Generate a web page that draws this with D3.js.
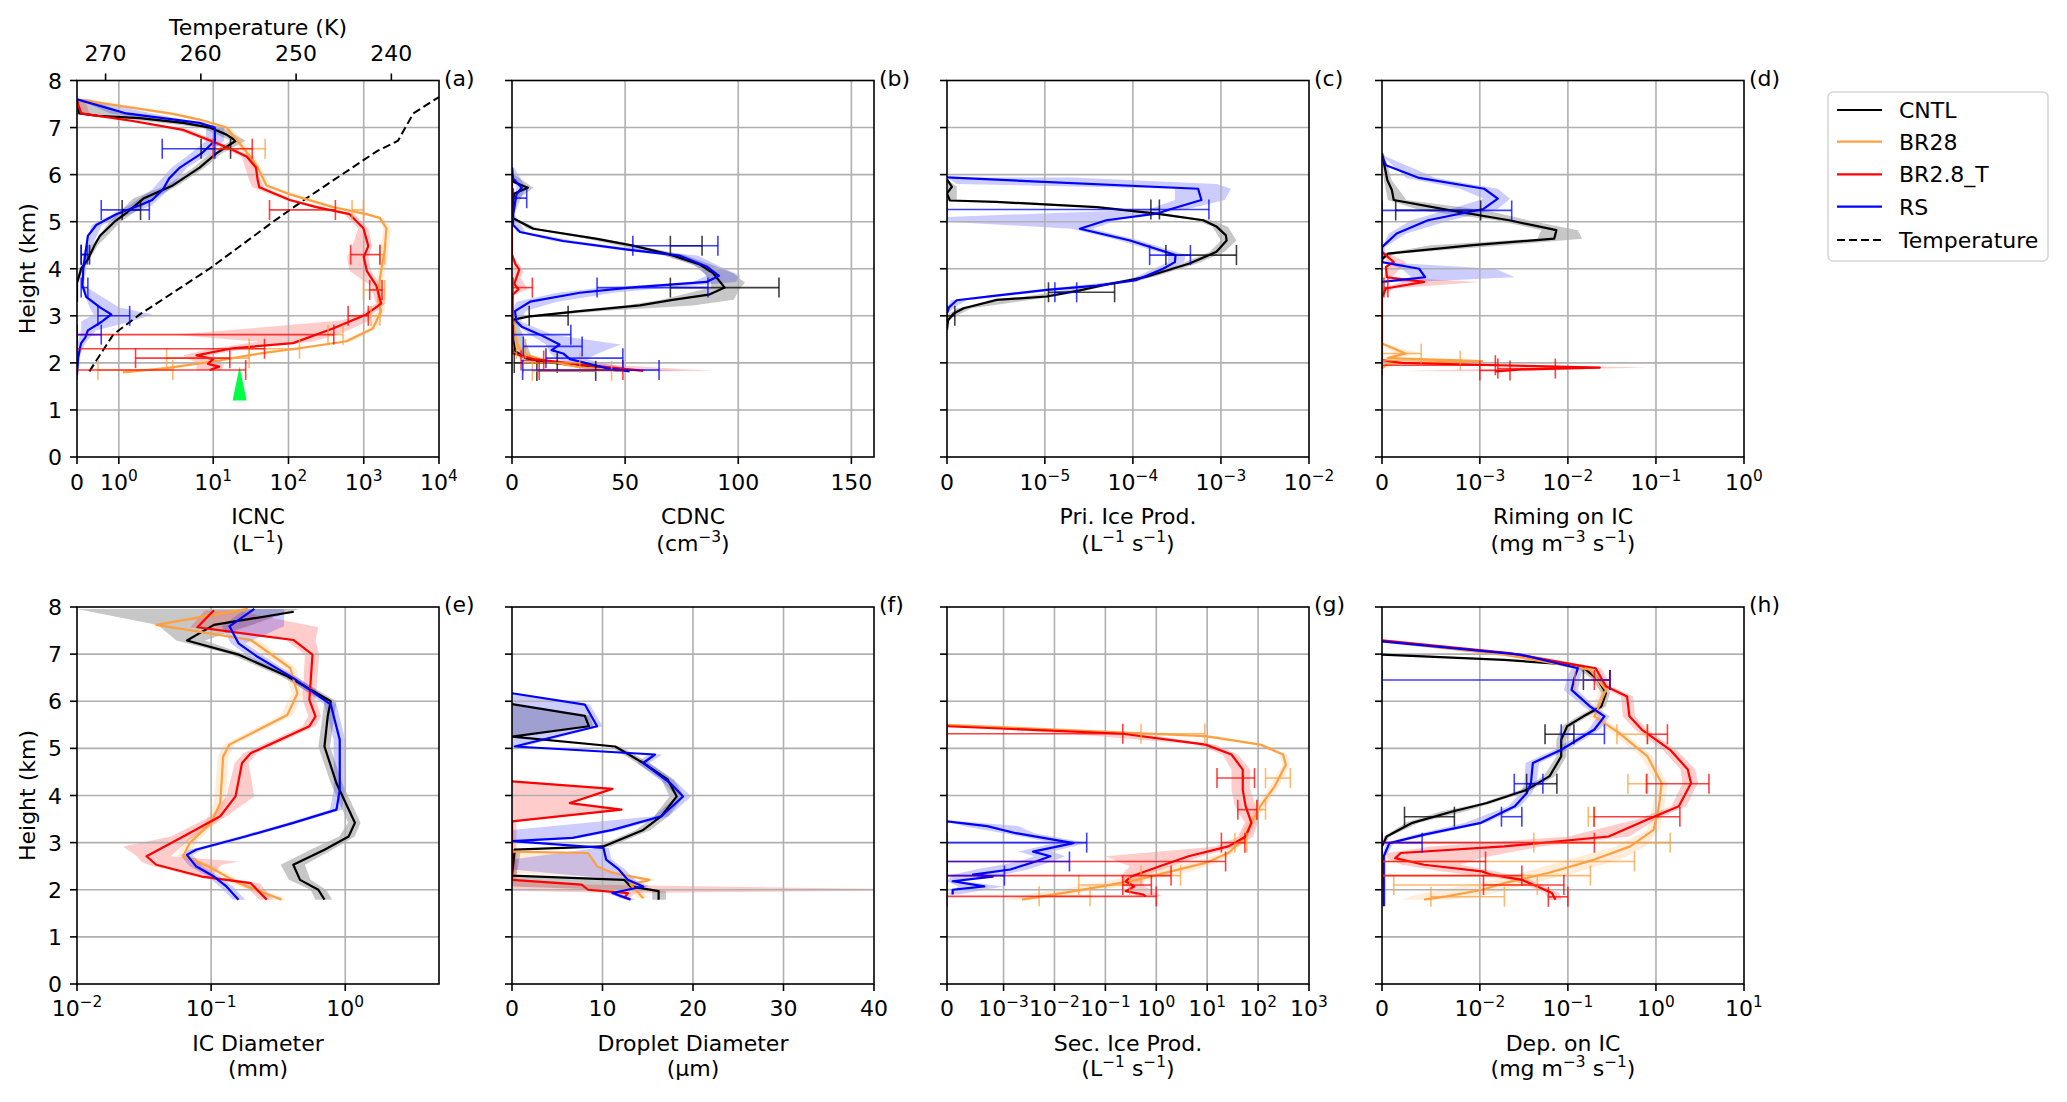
<!DOCTYPE html>
<html><head><meta charset="utf-8">
<script src="https://cdn.jsdelivr.net/npm/d3@7"></script>
<style>body{margin:0;background:#fff}svg{display:block}text{font-family:"DejaVu Sans",sans-serif;fill:#000}</style>
</head><body><svg id="c" width="2067" height="1102"></svg>
<script>
// ---------------- DATA ----------------
const SERIES_NAMES = ["CNTL","BR28","BR2.8_T","RS"];
const SERIES_COLORS = ["#000000","#ffa040","#ff0000","#0000ff"];
const HEIGHT_TICKS = [0,1,2,3,4,5,6,7,8];
const PANEL_TAGS = ["(a)","(b)","(c)","(d)","(e)","(f)","(g)","(h)"];
const X_LABELS = [["ICNC","(L^{−1})"],["CDNC","(cm^{−3})"],["Pri. Ice Prod.","(L^{−1} s^{−1})"],["Riming on IC","(mg m^{−3} s^{−1})"],
  ["IC Diameter","(mm)"],["Droplet Diameter","(μm)"],["Sec. Ice Prod.","(L^{−1} s^{−1})"],["Dep. on IC","(mg m^{−3} s^{−1})"]];
const A_TICKS=[0,1,10,100,1000,10000], B_TICKS=[0,50,100,150], C_TICKS=[0,1e-5,1e-4,1e-3,1e-2], D_TICKS=[0,1e-3,1e-2,1e-1,1];
const E_TICKS=[0.01,0.1,1], F_TICKS=[0,10,20,30,40], G_TICKS=[0,1e-3,1e-2,1e-1,1,10,100,1000], H_TICKS=[0,1e-2,1e-1,1,10];
const TEMP_TICKS=[270,260,250,240];
const TEMP_PROFILE=[[1.82,271.7],[2.6,269.2],[3.03,266.4],[4.0,259.1],[5.0,252.4],[5.5,248.9],[6.0,245.2],[6.5,241.5],[6.72,239.3],[7.3,237.7],[7.65,235.0]];
const MARKER=[1.56,22.4];

// panel (a) ICNC  [height km, value]
const A_CNTL=[[7.6,0],[7.3,0.05],[7.25,0.5],[7.2,1.5],[7.1,4],[7.0,9],[6.85,15],[6.72,20],[6.45,11],[6.15,6.6],[5.77,2.9],[5.5,1.6],[5.2,1.2],[5.0,0.9],[4.7,0.55],[4.5,0.42],[4.2,0.26],[4.0,0.1],[3.7,0],[3.3,0]];
const A_BR28=[[7.6,0],[7.44,1.18],[7.29,2.9],[7.17,6.6],[7.0,15],[6.72,21],[6.3,34],[6.15,39],[5.77,51],[5.58,104],[5.31,390],[5.16,1090],[5.08,1640],[4.86,2000],[4.4,1900],[3.79,1640],[3.34,1550],[3.1,1700],[2.73,1320],[2.46,590],[2.31,140],[2.2,42],[2.04,11],[1.89,2.4],[1.8,1.1]];
const A_BR28T=[[7.57,0],[7.3,0.1],[7.14,1.34],[6.95,4],[6.7,10],[6.53,18],[6.38,28],[6.15,37],[5.88,39],[5.73,41],[5.46,104],[5.31,234],[5.16,650],[4.86,990],[4.48,1150],[4.25,1000],[3.95,1100],[3.64,1470],[3.26,1700],[3.03,1080],[2.73,390],[2.42,115],[2.31,18],[2.16,6],[2.08,10],[1.98,8.5],[1.92,12],[1.85,9]];
const A_RS=[[7.6,0],[7.3,1.18],[7.1,6.6],[7.0,10.5],[6.72,10.5],[6.45,7],[6.15,3.6],[5.92,2.6],[5.69,2.15],[5.46,1.8],[5.35,1.5],[5.16,0.94],[4.93,0.46],[4.7,0.26],[4.32,0.2],[4.0,0.15],[3.64,0.13],[3.4,0.22],[3.18,0.55],[3.03,0.82],[2.88,0.6],[2.69,0.26],[2.54,0.2],[2.42,0.1],[2.31,0.07],[2.12,0.03],[1.74,0]];
const A_CNTL_band=[[7.6,0,0.3],[7.3,0,1.2],[7.2,1,2.4],[7.0,7,13],[6.72,17,27],[6.45,9,13],[6.15,5.5,7.8],[5.77,2.4,3.4],[5.5,1.35,1.85],[5.0,0.78,1.05],[4.5,0.35,0.5],[4.0,0.05,0.16],[3.7,0,0.03]];
const A_BR28_band=[[7.6,0,0.3],[7.3,2.4,3.5],[7.0,13,17],[6.72,18,25],[6.3,30,38],[5.77,45,58],[5.31,340,450],[5.08,1500,1800],[4.86,1800,2300],[4.4,1700,2150],[3.79,1500,1850],[3.1,1500,1900],[2.73,1150,1500],[2.46,500,700],[2.31,110,180],[2.2,33,55],[2.04,8.5,14],[1.89,1.9,3],[1.8,0.9,1.3]];
const A_BR28T_band=[[7.57,0,0.2],[7.3,0.05,0.3],[6.95,3.3,5],[6.7,8.5,12],[6.38,24,33],[5.88,30,42],[5.73,33,48],[5.46,90,120],[5.16,550,760],[4.86,850,1150],[4.48,700,1300],[4.25,600,1150],[3.95,650,1250],[3.64,1250,1700],[3.26,1450,1950],[3.03,900,1300],[2.9,500,1200],[2.73,30,700],[2.6,3,450],[2.45,40,200],[2.31,10,30],[2.16,4,9],[2.0,6,14],[1.85,6,13]];
const A_RS_band=[[7.6,0,0.2],[7.3,0.8,1.8],[7.0,8,14],[6.72,8,14],[6.45,5,9],[6.15,2.8,4.5],[5.69,1.8,2.6],[5.35,1.25,1.8],[4.93,0.35,0.6],[4.32,0.15,0.26],[3.64,0.1,0.17],[3.18,0.3,1.0],[3.03,0.4,1.8],[2.88,0.1,1.3],[2.69,0.1,0.45],[2.42,0.02,0.2],[2.12,0,0.06],[1.74,0,0.01]];
const A_CNTL_err=[[6.55,6.9,17],[5.25,1.08,1.52],[4.3,0.1,0.3]];
const A_BR28_err=[[6.55,10,49],[5.25,700,990],[4.3,1640,1900],[3.55,990,1900],[3.0,1250,1640],[2.6,335,530],[2.3,30,140],[2.1,2.4,30],[1.85,0.5,2.9]];
const A_BR28T_err=[[6.55,10,33],[5.25,56,420],[4.3,670,1640],[3.55,1200,1750],[3.0,620,1150],[2.6,0,400],[2.3,0,48],[2.1,1.4,16.6],[1.85,0,27]];
const A_RS_err=[[6.55,2.1,10.5],[5.25,0.58,1.73],[4.3,0.1,0.25],[3.6,0.1,0.26],[3.0,0.5,1.26],[2.6,0,0.58]];

// panel (b) CDNC
const B_CNTL=[[6.0,0],[5.85,0.5],[5.72,7],[5.6,1],[5.46,0.5],[5.08,0.3],[4.85,9.4],[4.64,37],[4.49,53.5],[4.3,70],[4.09,83],[3.9,89],[3.6,94],[3.45,87],[3.34,71],[3.22,56.5],[3.1,30],[2.99,8],[2.92,0.6],[2.5,0.5],[2.25,1.5],[2.1,6],[2.04,12],[1.89,37],[1.83,48]];
const B_BR28=[[2.88,0.6],[2.42,2],[2.2,5],[2.04,15],[1.91,30],[1.83,48]];
const B_BR28T=[[6.0,0],[4.3,0],[4.1,1.5],[3.98,3.2],[3.68,1],[3.56,2.8],[3.45,0.3],[2.3,0.3],[2.2,0.6],[2.08,9.4],[1.97,30],[1.83,58]];
const B_RS=[[6.15,0],[5.92,0.5],[5.72,4.3],[5.58,2],[5.16,0.5],[4.93,0.5],[4.78,3.5],[4.59,22.6],[4.4,52],[4.28,74],[4.05,86],[3.85,91.5],[3.72,86],[3.6,52],[3.49,30],[3.3,8],[3.1,1.3],[2.88,2],[2.77,4.3],[2.6,12.4],[2.39,21],[2.27,17.5],[2.2,22.6],[2.08,25.6],[1.89,41.5],[1.82,52]];
const B_CNTL_band=[[6.0,0,1],[5.72,4,9.5],[5.46,0,2],[5.08,0,1],[4.85,7,12],[4.64,33,40],[4.3,66,76],[4.09,80,88],[3.9,85,98],[3.7,88,103],[3.6,88,101],[3.34,66,98],[3.22,50,80],[3.1,25,40],[2.99,5,12],[2.92,0,2],[2.1,3,9],[1.89,30,42],[1.83,40,55]];
const B_BR28_band=[[2.88,0,1],[2.42,1,3],[2.2,3,7],[2.04,12,19],[1.91,25,36],[1.83,42,55]];
const B_BR28T_band=[[4.3,0,0.3],[4.1,0,3],[3.98,0.5,5],[3.8,0,4],[3.56,0.5,7],[3.45,0,1],[2.3,0,0.5],[2.2,0,2],[2.08,6,13],[1.97,25,40],[1.83,50,89]];
const B_RS_band=[[6.15,0,1],[5.72,2,6],[5.16,0,1],[4.78,2,6],[4.59,18,28],[4.4,47,58],[4.28,68,82],[4.05,82,92],[3.85,86,101],[3.72,80,99],[3.6,40,70],[3.49,20,45],[3.3,2,20],[3.1,0,6],[2.88,0,4],[2.6,8,18],[2.39,15,48],[2.2,17,38],[2.08,20,33],[1.89,35,50],[1.82,45,76]];
const B_CNTL_err=[[4.49,70,84],[3.6,70,118],[3.0,7.6,24.8],[2.0,1,20],[1.83,11,37]];
const B_BR28_err=[[2.3,2,6],[2.0,5,30],[1.83,9,44]];
const B_BR28T_err=[[3.6,0.5,9],[2.05,4,14],[1.85,12,49]];
const B_RS_err=[[5.5,0.6,6.5],[4.49,53.4,91],[3.6,37.6,86.6],[2.6,0.6,26],[2.35,5,31],[2.1,15,49],[1.85,4.7,65]];

// panel (c) primary ice production
const C_CNTL=[[5.9,0],[5.74,5e-7],[5.6,0],[5.45,3e-7],[5.42,5e-6],[5.31,3.9e-5],[5.17,1.86e-4],[5.03,6.3e-4],[4.89,9e-4],[4.71,1.14e-3],[4.6,1.16e-3],[4.36,8.9e-4],[4.11,4.4e-4],[3.83,1.43e-4],[3.65,4.6e-5],[3.54,2.5e-5],[3.41,1.05e-5],[3.34,5.1e-6],[3.16,1.7e-6],[3.05,6.8e-7],[2.9,1e-7],[2.7,0]];
const C_RS=[[5.94,0],[5.7,5.5e-4],[5.46,6e-4],[5.26,2.6e-4],[5.17,1.86e-4],[5.03,5e-5],[4.85,2.5e-5],[4.6,9.3e-5],[4.29,3.05e-4],[4.14,3e-4],[4.0,2.2e-4],[3.76,1.1e-4],[3.64,3.9e-5],[3.55,1.05e-5],[3.43,5e-6],[3.33,1e-6],[3.18,2e-7],[3.05,0]];
const C_CNTL_band=[[5.9,0,0],[5.74,0,1e-6],[5.45,0,1e-6],[5.42,3e-6,8e-6],[5.31,3e-5,5e-5],[5.17,1.5e-4,2.4e-4],[5.03,5.2e-4,7.8e-4],[4.89,8e-4,1.2e-3],[4.6,1e-3,1.5e-3],[4.36,7.5e-4,1.1e-3],[4.11,3.6e-4,5.4e-4],[3.83,1.2e-4,1.75e-4],[3.65,3.8e-5,5.6e-5],[3.41,8e-6,1.3e-5],[3.16,1e-6,2.5e-6],[3.0,0,1e-6],[2.9,0,0]];
const C_RS_band=[[5.94,0,2e-5],[5.8,1e-6,9e-4],[5.7,3e-4,1.3e-3],[5.46,3e-4,1.1e-3],[5.26,1.5e-4,4e-4],[5.1,0,9e-5],[5.0,0,6e-5],[4.85,2e-5,3.5e-5],[4.6,7e-5,1.2e-4],[4.29,2.5e-4,4e-4],[4.14,2.5e-4,3.8e-4],[3.76,9e-5,1.3e-4],[3.55,9e-6,1.5e-5],[3.33,4e-7,2e-6],[3.18,0,8e-7],[3.05,0,1e-7]];
const C_CNTL_err=[[5.26,1.6e-4,2.0e-4],[4.29,2.37e-4,1.5e-3],[3.5,1.1e-5,6.2e-5],[3.0,0,8e-7]];
const C_RS_err=[[5.26,0,7.3e-4],[4.29,1.55e-4,4.5e-4],[3.5,1.3e-5,2.3e-5]];

// panel (d) riming
const D_CNTL=[[6.45,0],[5.88,5.5e-5],[5.68,1e-4],[5.46,1.2e-4],[5.24,7e-4],[5.03,2.15e-3],[4.82,7.4e-3],[4.64,7e-3],[4.5,9.3e-4],[4.32,6e-5],[4.2,0]];
const D_BR28=[[2.41,0],[2.2,2.4e-4],[2.1,6e-5],[2.04,1.06e-3],[1.99,6e-5],[1.88,0]];
const D_BR28T=[[4.36,0],[4.14,1.2e-4],[4.04,4e-5],[3.82,5e-5],[3.72,4.3e-4],[3.58,4e-5],[3.4,0],[2.06,0],[2.0,2e-4],[1.95,1.6e-3],[1.9,2.3e-2],[1.86,3e-3],[1.82,1.5e-3]];
const D_RS=[[6.4,0],[6.2,4e-5],[5.93,3.8e-4],[5.7,1.12e-3],[5.49,1.6e-3],[5.27,1.1e-3],[5.03,4.7e-4],[4.75,1.5e-4],[4.46,0],[4.14,0],[4.0,3.8e-4],[3.82,4.4e-4],[3.72,0]];
const D_CNTL_band=[[6.45,0,2e-5],[5.88,2e-5,1e-4],[5.46,6e-5,2.5e-4],[5.24,4e-4,1.2e-3],[5.03,1.5e-3,3.5e-3],[4.82,5e-3,1.3e-2],[4.64,4.5e-3,1.45e-2],[4.5,5e-4,2e-3],[4.32,0,1.5e-4],[4.2,0,0]];
const D_BR28_band=[[2.41,0,2e-5],[2.2,1.2e-4,4e-4],[2.1,3e-5,1.2e-4],[2.04,6e-4,2e-3],[1.99,2e-5,2e-4],[1.88,0,5e-5]];
const D_BR28T_band=[[4.36,0,3e-5],[4.14,5e-5,2.5e-4],[3.82,2e-5,1e-4],[3.72,2e-4,1e-3],[3.58,0,1.2e-4],[3.4,0,0],[2.06,0,0],[2.0,1e-4,5e-4],[1.95,5e-4,4e-3],[1.9,1e-2,8e-2],[1.86,8e-4,9e-3],[1.82,2e-4,4e-3]];
const D_RS_band=[[6.4,0,2e-5],[5.93,2.5e-4,5.5e-4],[5.7,8e-4,1.6e-3],[5.49,1.1e-3,2.2e-3],[5.27,7e-4,1.6e-3],[5.03,3e-4,7e-4],[4.75,7e-5,2.5e-4],[4.46,0,3e-5],[4.14,0,2e-5],[4.0,2e-4,1.5e-3],[3.82,3e-4,2.5e-3],[3.72,0,3e-4]];
const D_CNTL_err=[[5.24,1.4e-4,1.02e-3]];
const D_BR28_err=[[2.2,0,4e-4],[2.05,0,8e-4]];
const D_BR28T_err=[[3.6,2e-5,6e-5],[1.95,0,1.5e-3],[1.88,1.6e-3,7.2e-3],[1.84,1e-3,2.2e-3]];
const D_RS_err=[[5.24,0,2.3e-3]];

// panel (e) IC diameter
const E_CNTL=[[7.9,0.413],[7.62,0.105],[7.29,0.066],[6.99,0.16],[6.53,0.37],[6.0,0.78],[5.68,0.74],[5.04,0.70],[4.26,0.86],[3.42,1.18],[3.13,1.06],[2.85,0.70],[2.53,0.41],[2.21,0.46],[2.0,0.63],[1.79,0.70]];
const E_BR28=[[7.96,0.188],[7.62,0.039],[7.3,0.198],[6.7,0.39],[6.17,0.44],[5.71,0.37],[5.08,0.137],[4.83,0.123],[3.84,0.117],[3.42,0.1],[2.99,0.069],[2.71,0.062],[2.5,0.095],[2.14,0.16],[1.79,0.335]];
const E_BR28T=[[7.93,0.105],[7.57,0.079],[7.3,0.41],[6.99,0.57],[6.03,0.54],[5.68,0.60],[5.47,0.54],[4.9,0.198],[4.69,0.17],[3.98,0.152],[3.56,0.117],[3.13,0.062],[2.71,0.033],[2.53,0.039],[2.28,0.085],[2.14,0.198],[2.0,0.22],[1.79,0.26]];
const E_RS=[[7.96,0.21],[7.59,0.137],[7.23,0.16],[6.95,0.22],[6.49,0.41],[5.93,0.78],[5.18,0.91],[4.12,0.91],[3.7,0.86],[3.42,0.41],[3.13,0.18],[2.85,0.077],[2.74,0.066],[2.5,0.077],[2.28,0.105],[2.07,0.13],[1.79,0.16]];
const E_CNTL_band=[[7.96,0.01,0.45],[7.62,0.04,0.2],[7.29,0.055,0.09],[6.99,0.14,0.18],[6.53,0.33,0.42],[6.0,0.7,0.86],[5.04,0.63,0.77],[4.26,0.78,0.95],[3.42,1.05,1.3],[3.13,0.9,1.18],[2.85,0.55,0.8],[2.53,0.33,0.5],[2.21,0.38,0.55],[2.0,0.55,0.72],[1.79,0.6,0.8]];
const E_BR28_band=[[7.96,0.15,0.23],[7.62,0.035,0.045],[7.3,0.17,0.23],[6.7,0.35,0.43],[6.17,0.4,0.49],[5.71,0.33,0.41],[5.08,0.125,0.15],[4.83,0.112,0.135],[3.84,0.105,0.128],[3.42,0.09,0.11],[2.99,0.062,0.077],[2.71,0.056,0.068],[2.5,0.085,0.105],[2.14,0.14,0.18],[1.79,0.3,0.37]];
const E_BR28T_band=[[7.93,0.09,0.15],[7.57,0.07,0.63],[7.3,0.36,0.6],[6.99,0.5,0.64],[6.03,0.48,0.6],[5.68,0.53,0.66],[5.47,0.48,0.6],[4.9,0.175,0.22],[4.69,0.15,0.19],[3.98,0.13,0.21],[3.56,0.1,0.13],[3.13,0.05,0.075],[2.92,0.022,0.06],[2.71,0.028,0.05],[2.6,0.03,0.16],[2.53,0.034,0.12],[2.28,0.075,0.1],[2.14,0.17,0.23],[1.79,0.23,0.29]];
const E_RS_band=[[7.96,0.18,0.35],[7.59,0.12,0.35],[7.23,0.14,0.18],[6.95,0.19,0.25],[6.49,0.37,0.45],[5.93,0.7,0.86],[5.18,0.82,1.0],[4.12,0.82,1.0],[3.7,0.77,0.95],[3.42,0.37,0.45],[3.13,0.16,0.2],[2.85,0.069,0.086],[2.74,0.059,0.073],[2.5,0.069,0.086],[2.28,0.094,0.116],[2.07,0.116,0.145],[1.79,0.145,0.18]];

// panel (f) droplet diameter
const F_CNTL=[[5.94,0],[5.69,8.05],[5.47,8.5],[5.25,0],[5.04,11.4],[4.69,14.5],[4.34,17.2],[3.98,18.2],[3.56,16.5],[3.27,14.5],[2.92,10.1],[2.85,0.3],[2.3,0],[2.21,12.4],[2.07,13.1],[1.97,16.2],[1.79,16.2]];
const F_BR28=[[2.81,0],[2.78,8.4],[2.5,9.4],[2.36,11.1],[2.21,15.2],[2.11,13.1],[1.97,13.8],[1.82,14.5]];
const F_BR28T=[[4.3,0],[4.14,11.1],[3.84,6.4],[3.7,12.1],[3.45,0],[2.21,0],[2.11,7.7],[2.0,8.4],[1.93,12.8],[1.82,12.4]];
const F_RS=[[6.17,0],[5.93,8.05],[5.47,9.4],[5.04,0.3],[4.87,15.8],[4.69,14.5],[4.26,17.5],[3.98,18.9],[3.56,16.5],[3.27,11.1],[3.1,6.7],[3.03,0],[2.89,10.1],[2.64,10.4],[2.43,11.8],[2.21,12.8],[2.07,14.5],[1.93,11.1],[1.79,13.1]];
const F_CNTL_band=[[5.94,0,0],[5.69,0,8.6],[5.47,0,9],[5.25,0,0.5],[5.04,10.8,12],[4.69,13.8,15.2],[4.34,16.5,17.9],[3.98,17.4,19],[3.56,15.7,17.3],[3.27,13.7,15.3],[2.92,9.4,10.9],[2.85,0,1],[2.3,0,0.5],[2.21,0,13],[2.07,0,13.8],[1.97,15.5,17],[1.79,15.5,17]];
const F_BR28_band=[[2.81,0,0],[2.78,0,8.4],[2.5,0,9.4],[2.36,0,11.1],[2.21,14.5,15.9],[2.11,12.5,13.7],[1.97,13.2,14.4],[1.82,13.9,15.1]];
const F_BR28T_band=[[4.3,0,0],[4.14,0,11.1],[3.84,0,6.4],[3.7,0,12.1],[3.45,0,0.5],[2.21,0,0.5],[2.11,0,7.7],[2.02,0,40],[1.98,0,40],[1.93,12,13.6],[1.82,11.8,13]];
const F_RS_band=[[6.17,0,0.5],[5.93,0,8.6],[5.47,0,10],[5.04,0,1.3],[4.87,15,16.6],[4.69,13.8,15.2],[4.26,16.8,18.3],[3.98,18.2,19.8],[3.56,15.7,17.3],[3.27,0,12],[3.1,0,7.5],[3.03,0,1],[2.89,9.5,10.7],[2.64,0,11],[2.43,0,12.5],[2.21,12,13.6],[2.07,13.8,15.2],[1.93,10.5,11.7],[1.79,12.5,13.7]];

// panel (g) secondary ice production
const G_BR28=[[5.5,0],[5.26,9.3],[5.08,110],[4.87,310],[4.65,350],[4.19,210],[3.77,110],[3.42,74],[3.06,50],[2.78,26],[2.57,9.3],[2.39,1.95],[2.21,0.41],[2.07,0.086],[1.93,0.014],[1.79,0.0023]];
const G_BR28T=[[5.47,0],[5.31,0.22],[5.08,9.3],[4.87,30],[4.55,50],[4.12,50],[3.77,57],[3.42,74],[3.13,57],[2.92,26],[2.71,4.3],[2.5,1.17],[2.28,0.32],[2.18,0.25],[2.07,0.37],[1.97,0.25],[1.9,0.55],[1.86,0.62]];
const G_RS=[[3.45,0],[3.35,7.1e-4],[3.2,1.75e-3],[2.99,0.0236],[2.81,3.8e-3],[2.71,8.3e-3],[2.6,4.3e-3],[2.43,1.35e-3],[2.32,4.6e-4],[2.28,8.1e-4],[2.18,1e-4],[2.07,6.6e-4],[2.0,1e-4],[1.9,1e-4]];
const G_BR28_band=[[5.5,0,1e-4],[5.26,5,14],[5.08,90,130],[4.87,260,380],[4.65,300,420],[4.19,170,260],[3.77,90,140],[3.42,60,90],[3.06,40,60],[2.78,20,33],[2.57,4,15],[2.39,0.5,5],[2.21,0.15,0.8],[2.07,0.03,0.2],[1.93,0.004,0.03],[1.79,0.001,0.004]];
const G_BR28T_band=[[5.47,0,1e-4],[5.31,0.02,0.5],[5.08,6,14],[4.87,20,40],[4.55,30,70],[4.12,30,70],[3.77,35,90],[3.42,55,100],[3.13,40,80],[2.92,15,40],[2.71,0.1,8],[2.5,0.3,2],[2.28,0.2,0.5],[2.07,0.25,0.6],[1.86,0.4,1.3]];
const G_RS_band=[[3.45,0,3e-4],[3.35,3e-4,2e-3],[3.2,1e-3,4e-3],[2.99,0.01,0.045],[2.81,2e-3,9e-3],[2.71,4e-3,0.016],[2.6,2e-3,9e-3],[2.43,5e-4,3e-3],[2.32,1e-4,1e-3],[2.18,0,3e-4],[2.07,2e-4,1e-3],[1.9,0,2e-4]];
const G_BR28_err=[[5.31,0.5,9],[4.37,140,430],[3.7,95,140],[3.0,35,60],[2.3,0.5,3],[2.1,0.03,0.3],[1.86,0.005,0.05]];
const G_BR28T_err=[[5.31,0,0.22],[4.37,15.6,85],[3.7,40,95],[3.0,19,55],[2.6,0,23],[2.3,0,1.95],[2.1,0.22,0.8],[1.86,0,1.0]];
const G_RS_err=[[3.0,0,0.043],[2.6,0,0.0197],[2.3,0,1.04e-3]];

// panel (h) depositional growth
const H_CNTL=[[6.99,0],[6.88,0.0188],[6.78,0.098],[6.7,0.153],[6.46,0.22],[6.17,0.27],[5.89,0.24],[5.68,0.15],[5.47,0.098],[5.18,0.084],[4.83,0.084],[4.41,0.062],[4.12,0.034],[3.84,0.012],[3.66,7.2e-3],[3.42,3.1e-3],[3.13,4.7e-4],[2.92,0]];
const H_BR28=[[7.27,0],[6.99,0.0188],[6.67,0.178],[6.24,0.27],[5.68,0.2],[5.33,0.38],[4.83,0.8],[4.26,1.16],[3.77,1.08],[3.27,0.94],[2.92,0.51],[2.64,0.2],[2.36,0.061],[2.14,0.0188],[2.0,0.0107],[1.86,6.6e-3],[1.79,4.3e-3]];
const H_BR28T=[[7.29,0],[7.02,0.0218],[6.7,0.207],[6.32,0.27],[6.1,0.47],[5.68,0.5],[5.4,0.69],[4.97,1.45],[4.55,2.3],[4.26,2.5],[3.77,1.82],[3.49,0.8],[3.13,0.29],[2.92,0.019],[2.78,1.9e-3],[2.67,1.35e-3],[2.53,4.3e-3],[2.39,0.0105],[2.32,0.0136],[2.21,0.03],[2.07,0.045],[1.93,0.066],[1.79,0.072]];
const H_RS=[[7.27,0],[6.99,0.029],[6.7,0.13],[6.53,0.12],[6.24,0.11],[5.89,0.178],[5.68,0.26],[5.4,0.2],[4.97,0.084],[4.69,0.04],[4.26,0.038],[4.05,0.034],[3.77,0.025],[3.42,0.0103],[3.17,4.3e-3],[2.99,7.6e-4],[2.71,1.8e-4],[1.65,1.8e-4]];
const H_CNTL_band=[[7.0,0,2e-3],[6.88,0.015,0.023],[6.78,0.085,0.11],[6.7,0.13,0.17],[6.46,0.19,0.25],[6.17,0.24,0.3],[5.89,0.21,0.27],[5.68,0.13,0.17],[5.47,0.085,0.11],[5.18,0.074,0.096],[4.83,0.074,0.096],[4.41,0.053,0.071],[4.12,0.029,0.039],[3.84,0.0105,0.014],[3.66,6e-3,8.5e-3],[3.42,2.4e-3,3.8e-3],[3.13,2e-4,8e-4],[2.92,0,1e-4]];
const H_BR28_band=[[7.27,0,1e-3],[6.99,0.015,0.023],[6.67,0.15,0.21],[6.24,0.23,0.31],[5.68,0.17,0.23],[5.33,0.32,0.44],[4.83,0.68,0.92],[4.26,1.0,1.35],[3.77,0.92,1.25],[3.27,0.8,1.1],[2.92,0.35,0.75],[2.64,0.1,0.4],[2.36,0.03,0.12],[2.14,0.01,0.04],[2.0,6e-3,0.02],[1.86,3e-3,0.01],[1.79,2e-3,7e-3]];
const H_BR28T_band=[[7.29,0,1e-3],[7.02,0.018,0.026],[6.7,0.18,0.24],[6.32,0.23,0.31],[6.1,0.4,0.55],[5.68,0.42,0.58],[5.4,0.58,0.8],[4.97,1.2,1.7],[4.55,1.9,2.8],[4.26,2.0,3.0],[3.77,1.5,2.2],[3.49,0.6,1.0],[3.13,0.1,0.5],[2.92,5e-3,0.05],[2.78,5e-4,0.02],[2.67,5e-4,0.01],[2.53,2e-3,8e-3],[2.39,6e-3,0.015],[2.21,0.022,0.038],[2.07,0.036,0.055],[1.93,0.055,0.08],[1.79,0.06,0.085]];
const H_RS_band=[[7.27,0,1e-3],[6.99,0.024,0.034],[6.7,0.11,0.15],[6.53,0.1,0.14],[6.24,0.09,0.13],[5.89,0.15,0.2],[5.68,0.22,0.3],[5.4,0.17,0.23],[4.97,0.07,0.1],[4.69,0.033,0.047],[4.26,0.032,0.044],[4.05,0.029,0.039],[3.77,0.021,0.029],[3.42,8.5e-3,0.012],[3.17,3.4e-3,5.3e-3],[2.99,4e-4,1.2e-3],[2.71,0,4e-4],[1.65,0,4e-4]];
const H_CNTL_err=[[6.45,0.15,0.3],[5.3,0.055,0.117],[4.25,0.034,0.075],[3.55,2.3e-3,7.4e-3]];
const H_BR28_err=[[6.45,0.12,0.3],[5.3,0.36,0.8],[4.25,0.48,0.8],[3.55,0.17,0.2],[3.0,0.041,1.45],[2.6,0,0.57],[2.3,0,0.18],[2.1,1.2e-3,0.045],[1.85,5e-3,0.019]];
const H_BR28T_err=[[6.45,0.2,0.3],[5.3,0.8,1.35],[4.25,0.78,4.0],[3.55,0.198,1.87],[3.0,0,0.2],[2.6,0,0.0116],[2.3,0,0.03],[2.1,0.011,0.09],[1.85,0.06,0.1]];
const H_RS_err=[[6.45,0,0.3],[5.3,0.084,0.26],[4.25,0.0246,0.052],[3.55,0.0176,0.03],[3.0,0,4.1e-3]];

// ---------------- LAYOUT ----------------
const LEFTS=[77,512,947,1382], PW=362, TOPS=[80.5,607], BOTTOMS=[457,984];
const FS=22;
const PANELS=[
 {row:0,col:0,x:{type:"symlog",lt:2,max:1e4},ticks:A_TICKS,log:true,s:[[A_CNTL,A_CNTL_band,A_CNTL_err],[A_BR28,A_BR28_band,A_BR28_err],[A_BR28T,A_BR28T_band,A_BR28T_err],[A_RS,A_RS_band,A_RS_err]]},
 {row:0,col:1,x:{type:"lin",max:160},ticks:B_TICKS,log:false,s:[[B_CNTL,B_CNTL_band,B_CNTL_err],[B_BR28,B_BR28_band,B_BR28_err],[B_BR28T,B_BR28T_band,B_BR28T_err],[B_RS,B_RS_band,B_RS_err]]},
 {row:0,col:2,x:{type:"symlog",lt:1e-5,max:1e-2},ticks:C_TICKS,log:true,s:[[C_CNTL,C_CNTL_band,C_CNTL_err],null,null,[C_RS,C_RS_band,C_RS_err]]},
 {row:0,col:3,x:{type:"symlog",lt:1e-3,max:1},ticks:D_TICKS,log:true,s:[[D_CNTL,D_CNTL_band,D_CNTL_err],[D_BR28,D_BR28_band,D_BR28_err],[D_BR28T,D_BR28T_band,D_BR28T_err],[D_RS,D_RS_band,D_RS_err]]},
 {row:1,col:0,x:{type:"log",min:0.01,max:5},ticks:E_TICKS,log:true,s:[[E_CNTL,E_CNTL_band,null],[E_BR28,E_BR28_band,null],[E_BR28T,E_BR28T_band,null],[E_RS,E_RS_band,null]]},
 {row:1,col:1,x:{type:"lin",max:40},ticks:F_TICKS,log:false,s:[[F_CNTL,F_CNTL_band,null],[F_BR28,F_BR28_band,null],[F_BR28T,F_BR28T_band,null],[F_RS,F_RS_band,null]]},
 {row:1,col:2,x:{type:"symlog",lt:1e-3,max:1e3},ticks:G_TICKS,log:true,s:[null,[G_BR28,G_BR28_band,G_BR28_err],[G_BR28T,G_BR28T_band,G_BR28T_err],[G_RS,G_RS_band,G_RS_err]]},
 {row:1,col:3,x:{type:"symlog",lt:1e-2,max:10},ticks:H_TICKS,log:true,s:[[H_CNTL,H_CNTL_band,H_CNTL_err],[H_BR28,H_BR28_band,H_BR28_err],[H_BR28T,H_BR28T_band,H_BR28T_err],[H_RS,H_RS_band,H_RS_err]]}
];

const svg=d3.select("#c");
const defs=svg.append("defs");

function makeX(sp,x0,x1){
  if(sp.type==="lin") return d3.scaleLinear().domain([0,sp.max]).range([x0,x1]);
  if(sp.type==="log") return d3.scaleLog().domain([sp.min,sp.max]).range([x0,x1]);
  const lt=sp.lt, adj=1/(1-0.1);
  const t=v=> v<=lt ? (v/lt)*adj : adj+Math.log10(v/lt);
  const lin=d3.scaleLinear().domain([0,t(sp.max)]).range([x0,x1]);
  return v=>lin(t(Math.max(0,v)));
}
function rich(sel,str,size){
  const parts=str.split(/(\^\{[^}]*\})/).filter(s=>s.length);
  let raised=false;
  parts.forEach(p=>{
    if(p.startsWith("^{")){
      sel.append("tspan").attr("font-size",size*0.7).attr("dy",-size*0.42).text(p.slice(2,-1));
      raised=true;
    } else {
      const ts=sel.append("tspan").attr("font-size",size).text(p);
      if(raised){ts.attr("dy",size*0.42);raised=false;}
    }
  });
}
function addText(g,str,x,y,anchor,size){
  const t=g.append("text").attr("x",x).attr("y",y).attr("text-anchor",anchor||"middle").attr("font-size",size||FS);
  rich(t,str,size||FS);
  return t;
}
function tickLabel(v,isLog){
  if(!isLog) return String(v);
  if(v===0) return "0";
  const e=Math.round(Math.log10(v));
  return "10^{"+(e<0?"−"+(-e):e)+"}";
}

PANELS.forEach((p,i)=>{
  const x0=LEFTS[p.col], x1=x0+PW, y0=TOPS[p.row], y1=BOTTOMS[p.row];
  const xs=makeX(p.x,x0,x1);
  const ys=d3.scaleLinear().domain([0,8]).range([y1,y0]);
  const g=svg.append("g");
  const cid="clip"+i;
  defs.append("clipPath").attr("id",cid).append("rect").attr("x",x0).attr("y",y0).attr("width",PW).attr("height",y1-y0);
  const plot=g.append("g").attr("clip-path","url(#"+cid+")");
  const area=d3.area().y(d=>ys(d[0])).x0(d=>xs(d[1])).x1(d=>xs(d[2]));
  const line=d3.line().x(d=>xs(d[1])).y(d=>ys(d[0]));
  p.s.forEach((s,k)=>{ if(s&&s[1]) plot.append("path").attr("d",area(s[1])).attr("fill",SERIES_COLORS[k]).attr("fill-opacity",k===0?0.22:0.2).attr("stroke","none"); });
  HEIGHT_TICKS.forEach(v=>{ if(v>0&&v<8) plot.append("line").attr("x1",x0).attr("x2",x1).attr("y1",ys(v)).attr("y2",ys(v)).attr("stroke","#b0b0b0").attr("stroke-width",1.6); });
  p.ticks.forEach(v=>{ const X=xs(v); if(X>x0+1&&X<x1-1) plot.append("line").attr("x1",X).attr("x2",X).attr("y1",y0).attr("y2",y1).attr("stroke","#b0b0b0").attr("stroke-width",1.6); });
  if(i===0){
    const ts=d3.scaleLinear().domain([273,235]).range([x0,x1]);
    plot.append("path").attr("d",d3.line().x(d=>ts(d[1])).y(d=>ys(d[0]))(TEMP_PROFILE)).attr("fill","none").attr("stroke","#000").attr("stroke-width",2).attr("stroke-dasharray","8,4");
    const mx=xs(MARKER[1]), my=ys(MARKER[0]);
    plot.append("path").attr("d",`M${mx},${my-17}L${mx+7},${my+17}L${mx-7},${my+17}Z`).attr("fill","#00ff44");
  }
  p.s.forEach((s,k)=>{ if(s) plot.append("path").attr("d",line(s[0])).attr("fill","none").attr("stroke",SERIES_COLORS[k]).attr("stroke-width",2.2).attr("stroke-linejoin","round"); });
  p.s.forEach((s,k)=>{ if(s&&s[2]) s[2].forEach(e=>{
    const Y=ys(e[0]), a=xs(e[1]), b=xs(e[2]);
    const eg=plot.append("g").attr("stroke",SERIES_COLORS[k]).attr("stroke-width",1.6).attr("stroke-opacity",0.75);
    eg.append("line").attr("x1",a).attr("x2",b).attr("y1",Y).attr("y2",Y);
    eg.append("line").attr("x1",a).attr("x2",a).attr("y1",Y-10).attr("y2",Y+10);
    eg.append("line").attr("x1",b).attr("x2",b).attr("y1",Y-10).attr("y2",Y+10);
  }); });
  g.append("rect").attr("x",x0).attr("y",y0).attr("width",PW).attr("height",y1-y0).attr("fill","none").attr("stroke","#000").attr("stroke-width",1.6);
  HEIGHT_TICKS.forEach(v=>{
    g.append("line").attr("x1",x0-7).attr("x2",x0).attr("y1",ys(v)).attr("y2",ys(v)).attr("stroke","#000").attr("stroke-width",1.6);
    if(p.col===0) addText(g,String(v),x0-15,ys(v)+8,"end");
  });
  const tb = p.row===0 ? 490 : 1016;
  p.ticks.forEach(v=>{
    const X=xs(v);
    g.append("line").attr("x1",X).attr("x2",X).attr("y1",y1).attr("y2",y1+7).attr("stroke","#000").attr("stroke-width",1.6);
    addText(g,tickLabel(v,p.log),X,tb,"middle");
  });
  const lab=X_LABELS[i], cx=(x0+x1)/2;
  addText(g,lab[0],cx,p.row===0?524:1051,"middle");
  addText(g,lab[1],cx,p.row===0?551:1076,"middle");
  addText(g,PANEL_TAGS[i],x1+5,y0+5,"start");
  if(p.col===0){
    g.append("text").attr("transform",`translate(35,${(y0+y1)/2}) rotate(-90)`).attr("text-anchor","middle").attr("font-size",FS).text("Height (km)");
  }
  if(i===0){
    const ts=d3.scaleLinear().domain([273,235]).range([x0,x1]);
    TEMP_TICKS.forEach(v=>{
      g.append("line").attr("x1",ts(v)).attr("x2",ts(v)).attr("y1",y0).attr("y2",y0-7).attr("stroke","#000").attr("stroke-width",1.6);
      addText(g,String(v),ts(v),61,"middle");
    });
    addText(g,"Temperature (K)",cx,35,"middle");
  }
});

// legend
const LEG_ROWS=[110,141.7,174.3,206.7,240];
const lg=svg.append("g");
lg.append("rect").attr("x",1828).attr("y",92).attr("width",220).attr("height",169).attr("rx",5).attr("fill","#fff").attr("fill-opacity",0.8).attr("stroke","#d6d6d6").attr("stroke-width",1.6);
SERIES_NAMES.concat(["Temperature"]).forEach((n,k)=>{
  const y=LEG_ROWS[k];
  const l=lg.append("line").attr("x1",1837).attr("x2",1882).attr("y1",y).attr("y2",y).attr("stroke",k<4?SERIES_COLORS[k]:"#000").attr("stroke-width",2.2);
  if(k===4) l.attr("stroke-dasharray","8,4");
  lg.append("text").attr("x",1899).attr("y",y+8).attr("font-size",FS).text(n);
});
</script></body></html>
